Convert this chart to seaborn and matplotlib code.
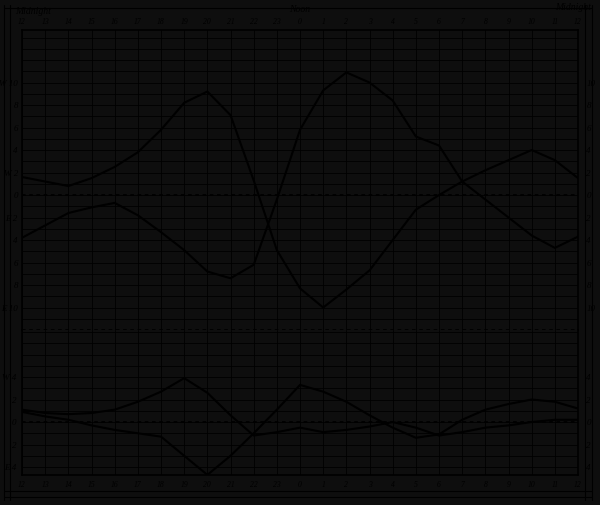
import matplotlib
matplotlib.use("Agg")
import matplotlib.pyplot as plt
from matplotlib.lines import Line2D
import seaborn as sns
import pandas as pd

# Stunden (astronomische Zaehlung: 0 = Mittag)
hour_labels = ["12", "13", "14", "15", "16", "17", "18", "19", "20", "21", "22", "23",
               "0", "1", "2", "3", "4", "5", "6", "7", "8", "9", "10", "11", "12"]

# oberes Feld, zwei Kurven
upper_a = [1.6, 1.2, 0.8, 1.5, 2.5, 3.8, 5.8, 8.2, 9.2, 7.1, 1.3, -4.9, -8.3,
           -10.0, -8.4, -6.7, -4.0, -1.3, 0.0, 1.2, 2.2, 3.1, 4.0, 3.1, 1.5]
upper_b = [-3.8, -2.7, -1.6, -1.1, -0.7, -1.8, -3.3, -4.9, -6.8, -7.4, -6.2, -0.4, 5.8,
           9.3, 10.9, 10.0, 8.4, 5.2, 4.4, 1.2, -0.4, -2.0, -3.6, -4.7, -3.7]

# unteres Feld, zwei Kurven
lower_a = [1.1, 0.8, 0.7, 0.8, 1.1, 1.8, 2.7, 3.9, 2.6, 0.6, -1.2, -0.9, -0.5,
           -0.9, -0.7, -0.4, 0.0, -0.5, -1.2, -0.9, -0.5, -0.3, 0.0, 0.2, 0.2]
lower_b = [0.9, 0.5, 0.2, -0.3, -0.7, -1.0, -1.3, -3.0, -4.7, -3.0, -1.0, 1.1, 3.3,
           2.7, 1.8, 0.6, -0.5, -1.4, -1.1, 0.2, 1.1, 1.6, 2.0, 1.8, 1.2]

upper_ticks = [10, 8, 6, 4, 2, 0, -2, -4, -6, -8, -10]
upper_left = ["W 10", "8", "6", "4", "W 2", "0", "E 2", "4", "6", "8", "E 10"]
upper_right = ["10", "8", "6", "4", "2", "0", "2", "4", "6", "8", "10"]
lower_ticks = [4, 2, 0, -2, -4]
lower_left = ["W 4", "2", "0", "2", "E 4"]
lower_right = ["4", "2", "0", "2", "4"]

bg = "#0e0e0e"
ink = "#000000"

sns.set_style("white", rc={"axes.facecolor": bg, "figure.facecolor": bg,
                           "axes.edgecolor": ink, "text.color": ink,
                           "xtick.color": ink, "ytick.color": ink})
plt.rcParams["font.family"] = ["Liberation Serif", "DejaVu Serif"]

fig = plt.figure(figsize=(6, 5.05), dpi=100, facecolor=bg)
ax1 = fig.add_axes([0.0367, 0.3465, 0.9267, 0.5941])
ax2 = fig.add_axes([0.0367, 0.0594, 0.9267, 0.2871])

x = list(range(len(hour_labels)))
df_up = pd.DataFrame({"x": x, "a": upper_a, "b": upper_b})
df_lo = pd.DataFrame({"x": x, "a": lower_a, "b": lower_b})

for ax, df, ylim in [(ax1, df_up, (-12.0, 14.67)), (ax2, df_lo, (-4.71, 8.18))]:
    ax.set_facecolor(bg)
    ax.set_xlim(0, 24)
    ax.set_ylim(*ylim)
    ax.set_xticks(x)
    ax.set_yticks(range(int(ylim[0]), int(ylim[1]) + 1), minor=True)
    ax.grid(True, which="both", color=ink, lw=0.6)
    ax.axhline(0, color=ink, lw=1.3, ls=(0, (2, 2)))
    sns.lineplot(data=df, x="x", y="a", ax=ax, color=ink, lw=1.5)
    sns.lineplot(data=df, x="x", y="b", ax=ax, color=ink, lw=1.5)
    ax.set_xlabel("")
    ax.set_ylabel("")
    for s in ax.spines.values():
        s.set_color(ink)
        s.set_linewidth(1.2)

ax1.set_yticks(upper_ticks, upper_left, fontsize=6.5, style="italic")
ax2.set_yticks(lower_ticks, lower_left, fontsize=6.5, style="italic")
for ax, labs in [(ax1, upper_right), (ax2, lower_right)]:
    sec = ax.secondary_yaxis("right")
    sec.set_yticks(ax.get_yticks(), labs, fontsize=6.5, style="italic")
    sec.tick_params(length=0, pad=6)
    sec.spines["right"].set_visible(False)

ax1.xaxis.tick_top()
ax1.set_xticks(x, hour_labels, fontsize=5.5, style="italic")
ax2.set_xticks(x, hour_labels, fontsize=5.5, style="italic")
ax1.tick_params(length=0, pad=3)
ax2.tick_params(length=0, pad=4)
ax1.spines["bottom"].set_visible(False)
ax2.spines["top"].set_visible(False)
ax1.axhline(-12.0, color=ink, lw=1.3, ls=(0, (2, 2)))

fig.text(0.025, 0.972, "Midnight", fontsize=7, style="italic")
fig.text(0.50, 0.976, "Noon", fontsize=7, style="italic", ha="center")
fig.text(0.985, 0.980, "Midnight", fontsize=7, style="italic", ha="right")

# Rahmenlinien des Blattes
for xx in [0.007, 0.016, 0.975, 0.987]:
    fig.add_artist(Line2D([xx, xx], [0.01, 0.99], color=ink, lw=0.8))
for yy in [0.028, 0.016, 0.985]:
    fig.add_artist(Line2D([0.007, 0.987], [yy, yy], color=ink, lw=0.8))

fig.savefig("out.png", dpi=100, facecolor=bg)
